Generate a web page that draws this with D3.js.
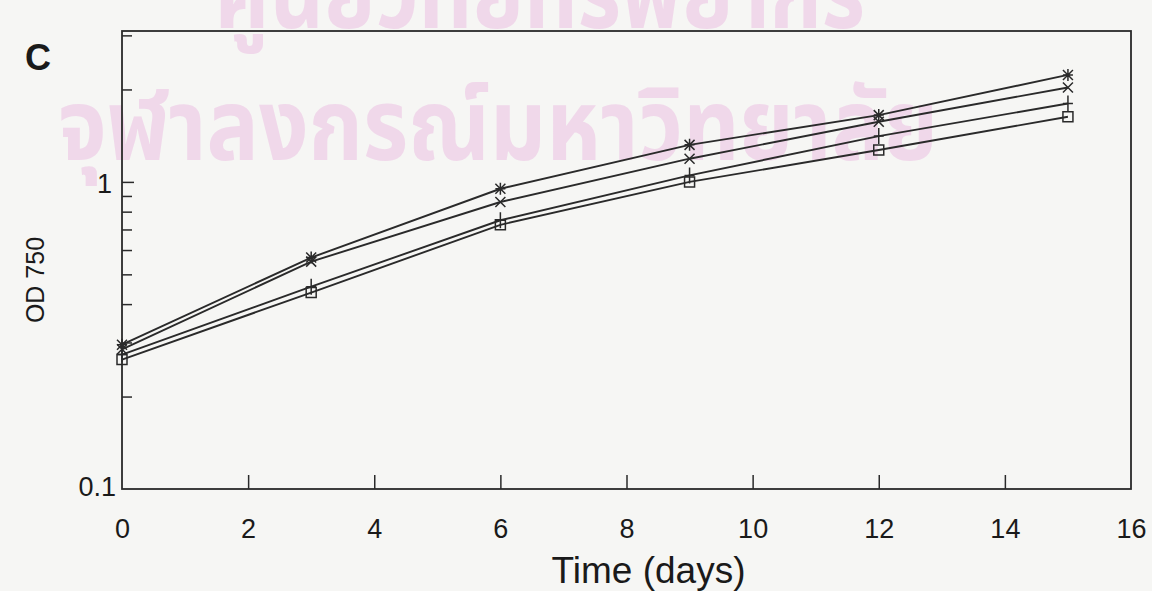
<!DOCTYPE html>
<html><head><meta charset="utf-8">
<script src="https://cdn.jsdelivr.net/npm/d3@7"></script>
<style>body{margin:0;background:#f6f6f4;} svg{display:block;}</style>
</head><body>
<svg id="chart" width="1152" height="591"></svg>
<script>
const days = [0, 3, 6, 9, 12, 15];
const seriesStar   = [0.295, 0.567, 0.95, 1.32, 1.65, 2.23];
const seriesCross  = [0.285, 0.55, 0.86, 1.19, 1.57, 2.03];
const seriesPlus   = [0.274, 0.456, 0.75, 1.05, 1.41, 1.80];
const seriesSquare = [0.264, 0.436, 0.725, 1.0, 1.27, 1.63];
const xTicks = [0, 2, 4, 6, 8, 10, 12, 14, 16];
const yLabelTicks = [0.1, 1];
const yMinorTicks = [0.2, 0.3, 0.4, 0.5, 0.6, 0.7, 0.8, 0.9, 2, 3];
const watermark1 = "ศูนย์วิทยทรัพยากร";
const watermark2 = "จุฬาลงกรณ์มหาวิทยาลัย";

const svg = d3.select("#chart");
const L = 122, R = 1131, T = 31, B = 489;
const x = d3.scaleLinear().domain([0, 16]).range([L, R]);
const y = d3.scaleLog().domain([0.1, 3.1]).range([B, T]);

// watermark
const wm = svg.append("g").attr("fill", "#f0d8ea").attr("font-weight", "bold")
  .attr("font-family", "'Noto Sans Thai','Noto Sans','DejaVu Sans',sans-serif");
wm.append("text").attr("x", 215).attr("y", 28).attr("font-size", 100).attr("textLength", 650).attr("lengthAdjust", "spacingAndGlyphs").text(watermark1);
wm.append("text").attr("x", 58).attr("y", 160).attr("font-size", 100).attr("textLength", 880).attr("lengthAdjust", "spacingAndGlyphs").text(watermark2);

// frame
svg.append("rect").attr("x", L).attr("y", T).attr("width", R - L).attr("height", B - T)
  .attr("fill", "none").attr("stroke", "#2a2a2a").attr("stroke-width", 1.8);

const tickFont = "'Liberation Sans',Arial,sans-serif";
// x axis ticks (inward)
const xAxis = d3.axisBottom(x).tickValues(xTicks).tickSize(-14).tickPadding(30).tickFormat(d3.format("d"));
const gx = svg.append("g").attr("transform", `translate(0,${B})`).call(xAxis);
gx.select(".domain").remove();
gx.selectAll(".tick line").attr("stroke", "#2a2a2a").attr("stroke-width", 1.5)
  .filter(d => d === 0 || d === 16).remove();
gx.selectAll(".tick text").attr("font-family", tickFont).attr("font-size", 27).attr("fill", "#1a1a1a");

// y axis
const yAxis = d3.axisLeft(y).tickValues(yLabelTicks).tickSize(-12).tickPadding(10).tickFormat(d => d === 1 ? "1" : "0.1");
const gy = svg.append("g").attr("transform", `translate(${L},0)`).call(yAxis);
gy.select(".domain").remove();
gy.selectAll(".tick line").attr("stroke", "#2a2a2a").attr("stroke-width", 1.5).filter(d => d === 0.1).remove();
gy.selectAll(".tick text").attr("font-family", tickFont).attr("font-size", 27).attr("fill", "#1a1a1a");
gy.selectAll(".tick text").filter(d => d === 1).attr("dy", "0.4em");
gy.selectAll(".tick text").filter(d => d === 0.1).attr("dy", "0.25em").attr("x", -6);

const yMinorAxis = d3.axisLeft(y).tickValues(yMinorTicks).tickSize(-10).tickFormat("");
const gym = svg.append("g").attr("transform", `translate(${L},0)`).call(yMinorAxis);
gym.select(".domain").remove();
gym.selectAll(".tick line").attr("stroke", "#2a2a2a").attr("stroke-width", 1.5);

// lines
const series = [
  {vals: seriesStar, m: "star"},
  {vals: seriesCross, m: "cross"},
  {vals: seriesPlus, m: "plus"},
  {vals: seriesSquare, m: "square"}
];
const line = d3.line().x((d, i) => x(days[i])).y(d => y(d));
const g = svg.append("g");
series.forEach(s => {
  g.append("path").attr("d", line(s.vals)).attr("fill", "none").attr("stroke", "#2a2a2a").attr("stroke-width", 1.9);
});

// markers
const mk = svg.append("g").attr("stroke", "#2a2a2a").attr("stroke-width", 1.5).attr("fill", "none");
series.forEach(s => {
  s.vals.forEach((v, i) => {
    const cx = x(days[i]), cy = y(v), r = 5;
    const p = d3.path();
    if (s.m === "star") {
      p.moveTo(cx - r, cy); p.lineTo(cx + r, cy);
      p.moveTo(cx, cy - r - 1); p.lineTo(cx, cy + r + 1);
      p.moveTo(cx - r, cy - r); p.lineTo(cx + r, cy + r);
      p.moveTo(cx - r, cy + r); p.lineTo(cx + r, cy - r);
    } else if (s.m === "cross") {
      p.moveTo(cx - r, cy - r); p.lineTo(cx + r, cy + r);
      p.moveTo(cx - r, cy + r); p.lineTo(cx + r, cy - r);
    } else if (s.m === "plus") {
      p.moveTo(cx - r, cy); p.lineTo(cx + r, cy);
      p.moveTo(cx, cy - r - 3); p.lineTo(cx, cy + r + 3);
    } else {
      p.rect(cx - r, cy - r, 2 * r, 2 * r);
    }
    mk.append("path").attr("d", p.toString());
  });
});

// labels
svg.append("text").attr("x", (L + R) / 2 + 22).attr("y", 583).attr("text-anchor", "middle")
  .attr("font-family", "'Liberation Sans Narrow','Arial Narrow','Liberation Sans',sans-serif")
  .attr("font-size", 37).attr("fill", "#1a1a1a").text("Time (days)");
svg.append("text").attr("transform", "translate(44,280) rotate(-90)").attr("text-anchor", "middle")
  .attr("font-family", tickFont).attr("font-size", 25).attr("fill", "#1a1a1a").text("OD 750");
svg.append("text").attr("x", 25).attr("y", 70).attr("font-family", tickFont)
  .attr("font-weight", "bold").attr("font-size", 36).attr("fill", "#1a1a1a").text("C");
</script>
</body></html>
